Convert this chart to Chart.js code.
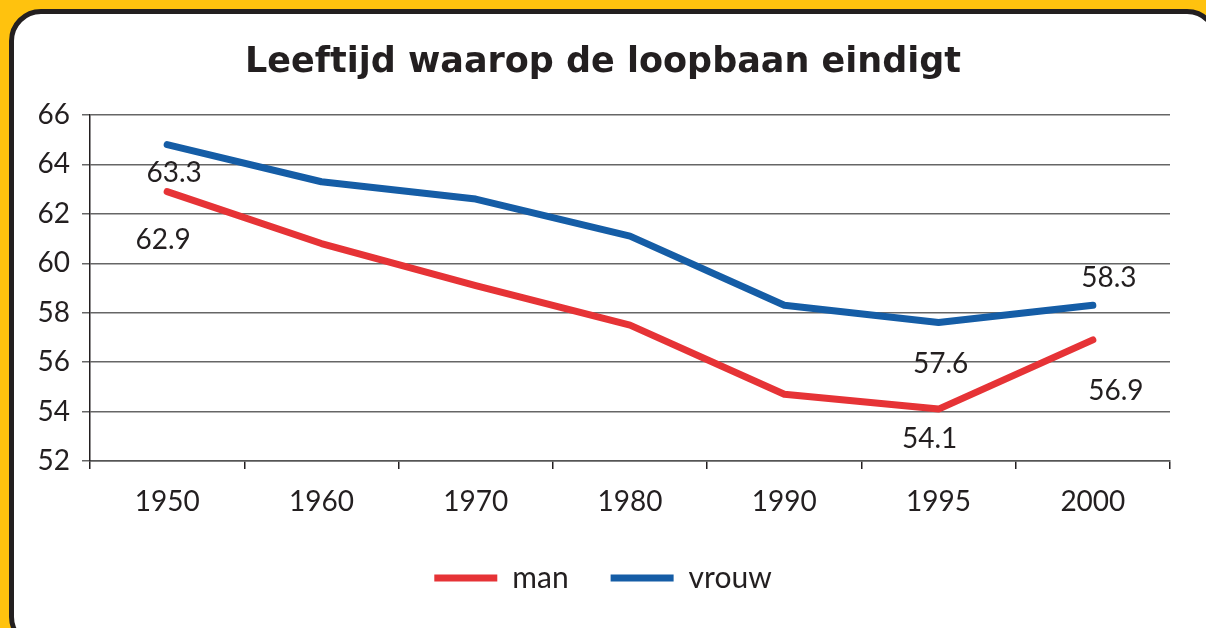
<!DOCTYPE html>
<html><head><meta charset="utf-8">
<script src="https://cdn.jsdelivr.net/npm/chart.js@4.4.1/dist/chart.umd.min.js"></script>
<style>
html,body{margin:0;padding:0;background:#FFC20E;width:1206px;height:628px;overflow:hidden;}
#panel{position:absolute;left:9px;top:9px;width:1210px;height:640px;background:#fff;border:5px solid #231F20;border-radius:32px;box-sizing:border-box;}
#wrap{position:absolute;left:0;top:0;width:1206px;height:628px;}
</style></head>
<body>
<div id="panel"></div>
<div id="wrap"><canvas id="c" width="1206" height="628"></canvas></div>
<script>
const categories = ['1950','1960','1970','1980','1990','1995','2000'];
const manValues = [62.9, 60.8, 59.1, 57.5, 54.7, 54.1, 56.9];
const vrouwValues = [64.8, 63.3, 62.6, 61.1, 58.3, 57.6, 58.3];
const yTicks = [52, 54, 56, 58, 60, 62, 64, 66];
// printed value labels: [series index, category index, text]
const valueLabels = [
  [1, 0, '63.3'],
  [0, 0, '62.9'],
  [1, 6, '58.3'],
  [1, 5, '57.6'],
  [0, 6, '56.9'],
  [0, 5, '54.1']
];
const labelOffsets = [[7, 28], [-4, 48], [16, -27], [2, 41], [23, 51], [-9, 30]];

const FONT = 'Lato, "Open Sans", sans-serif';
const TXT = '#231F20';

const labelPlugin = {
  id: 'valueLabels',
  afterDatasetsDraw(chart) {
    const ctx = chart.ctx;
    ctx.save();
    ctx.font = '28px ' + FONT;
    ctx.fillStyle = TXT;
    ctx.textAlign = 'center';
    ctx.textBaseline = 'middle';
    valueLabels.forEach((l, i) => {
      const pt = chart.getDatasetMeta(l[0]).data[l[1]];
      ctx.fillText(l[2], pt.x + labelOffsets[i][0], pt.y + labelOffsets[i][1]);
    });
    ctx.restore();
  }
};

new Chart(document.getElementById('c'), {
  type: 'line',
  data: {
    labels: categories,
    datasets: [
      {label: 'man', data: manValues, borderColor: '#E63336', backgroundColor: '#E63336', borderWidth: 7, pointRadius: 0, pointHoverRadius: 0, tension: 0, borderCapStyle: 'round', borderJoinStyle: 'round'},
      {label: 'vrouw', data: vrouwValues, borderColor: '#155DA6', backgroundColor: '#155DA6', borderWidth: 7, pointRadius: 0, pointHoverRadius: 0, tension: 0, borderCapStyle: 'round', borderJoinStyle: 'round'}
    ]
  },
  options: {
    responsive: false,
    animation: false,
    events: [],
    layout: {padding: {left: 0, right: 0, top: 34, bottom: 25}},
    plugins: {
      title: {display: true, text: 'Leeftijd waarop de loopbaan eindigt', color: TXT, font: {family: '"DejaVu Sans", sans-serif', size: 35, weight: 'bold'}, padding: {top: 8, bottom: 31}},
      legend: {position: 'bottom', labels: {usePointStyle: true, pointStyle: 'line', pointStyleWidth: 63, padding: 42, color: TXT, font: {family: FONT, size: 30}}},
      tooltip: {enabled: false}
    },
    scales: {
      x: {
        offset: true,
        afterFit(s) { s.height = 60; },
        grid: {display: true, drawOnChartArea: false, drawTicks: true, tickLength: 8, color: TXT, lineWidth: 1.5, offset: true},
        border: {display: true, color: '#555', width: 1.5},
        ticks: {color: TXT, font: {family: FONT, size: 28}, padding: 16, maxRotation: 0}
      },
      y: {
        min: 52, max: 66,
        afterFit(s) { s.width = 90; },
        afterBuildTicks(s) { s.ticks = yTicks.map(v => ({value: v})); },
        grid: {color: '#666', lineWidth: 1.5, tickLength: 8},
        border: {display: true, color: TXT, width: 1.5},
        ticks: {color: TXT, font: {family: FONT, size: 28}, padding: 12}
      },
      spacer: {
        type: 'linear', position: 'right', display: true,
        afterFit(s) { s.width = 36; },
        grid: {display: false, drawTicks: false},
        border: {display: false},
        ticks: {display: false}
      }
    }
  },
  plugins: [labelPlugin]
});
</script>
</body></html>
